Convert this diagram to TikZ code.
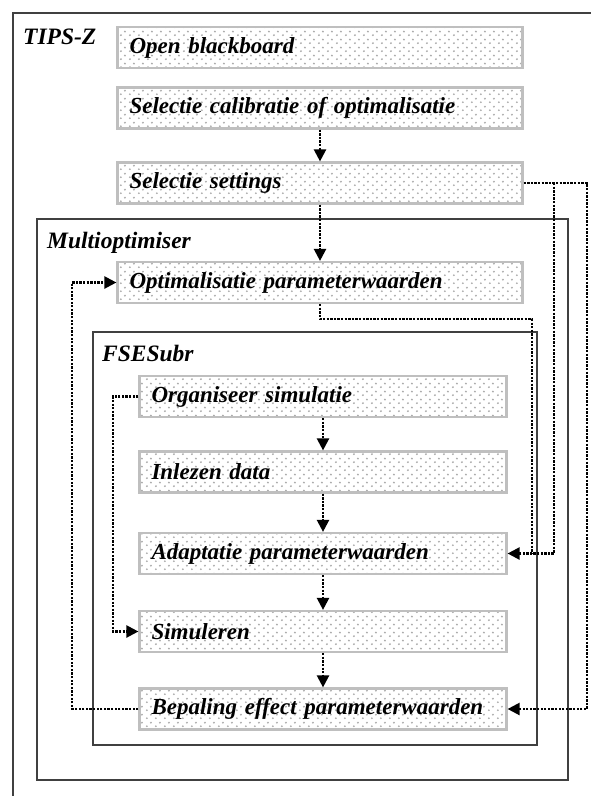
\documentclass[tikz,border=0pt]{standalone}
\usepackage{fontspec}
\setmainfont{Liberation Serif}
\usetikzlibrary{arrows.meta,patterns}

% dotted background of the boxes
\pgfdeclarepatternformonly{bbdots}{\pgfqpoint{0pt}{0pt}}{\pgfqpoint{8.5pt}{7.5pt}}{\pgfqpoint{8.5pt}{7.5pt}}{%
	\pgfpathcircle{\pgfqpoint{2pt}{1.9pt}}{1.1pt}%
	\pgfpathcircle{\pgfqpoint{6.25pt}{5.65pt}}{1.1pt}%
	\pgfusepath{fill}}

\tikzset{
	box/.style={draw=gray!50, line width=2.2pt, pattern=bbdots, pattern color=gray!65,
		minimum height=41pt, inner xsep=12pt, align=left,
		font=\fontsize{23}{26}\selectfont\bfseries\itshape},
	outerbox/.style={box, text width=381pt},
	innerbox/.style={box, text width=343pt},
	frame/.style={draw=black!75, line width=2.2pt},
	framelabel/.style={anchor=west, inner sep=2pt, font=\fontsize{23.5}{26}\selectfont\bfseries\itshape},
	link/.style={line width=2.3pt, dash pattern=on 2.3pt off 1.3pt},
	flow/.style={link, -{Triangle[length=12pt,width=12pt]}}
}

\begin{document}
\begin{tikzpicture}[x=1pt,y=-1pt]
		\useasboundingbox (0,0) rectangle (590,796);

		% TIPS-Z
		\draw[frame] (13,13) rectangle (700,900);
		\node[framelabel] (tips) at (21,37) {TIPS-Z};
		\node[outerbox] (ob) at (320,47.5) {Open blackboard};
		\node[outerbox] (sc) at (320,108) {Selectie calibratie of optimalisatie};
		\node[outerbox] (ss) at (320,183) {Selectie settings};

		% Multioptimiser
		\draw[frame] (37,219) rectangle (568,780);
		\node[framelabel] (mo) at (45,243) {Multioptimiser};
		\node[outerbox] (opt) at (320,282.5) {Optimalisatie parameterwaarden};

		% FSESubr
		\draw[frame] (93,332) rectangle (537,745);
		\node[framelabel] (fse) at (100,353) {FSESubr};
		\node[innerbox] (org) at (323,396.5) {Organiseer simulatie};
		\node[innerbox] (inl) at (323,472) {Inlezen data};
		\node[innerbox] (ad) at (323,553.5) {Adaptatie parameterwaarden};
		\node[innerbox] (sim) at (323,631.5) {Simuleren};
		\node[innerbox] (bep) at (323,709) {Bepaling effect parameterwaarden};

		% return lines
		\coordinate (rr) at (587,0);
		\coordinate (rm) at (554,0);
		\coordinate (ro) at (532,0);
		\coordinate (ll) at (72,0);
		\coordinate (li) at (113,0);

		\draw[flow] (sc) -- (ss);
		\draw[flow] (ss) -- (opt);
		\draw[flow] (org) -- (inl);
		\draw[flow] (inl) -- (ad);
		\draw[flow] (ad) -- (sim);
		\draw[flow] (sim) -- (bep);

		\draw[flow] (ss.east) -- (ss.east -| rr) -- (rr |- bep.east) -- (bep.east);
		\draw[flow] (ss.east -| rm) -- (rm |- ad.east) -- (ad.east);
		\draw[link] (opt.south) -- ++(0,15) -| (ro |- ad.east);
		\draw[flow] (bep.west) -- (bep.west -| ll) -- (ll |- opt.west) -- (opt.west);
		\draw[flow] (org.west) -- (org.west -| li) -- (li |- sim.west) -- (sim.west);
\end{tikzpicture}
\end{document}
